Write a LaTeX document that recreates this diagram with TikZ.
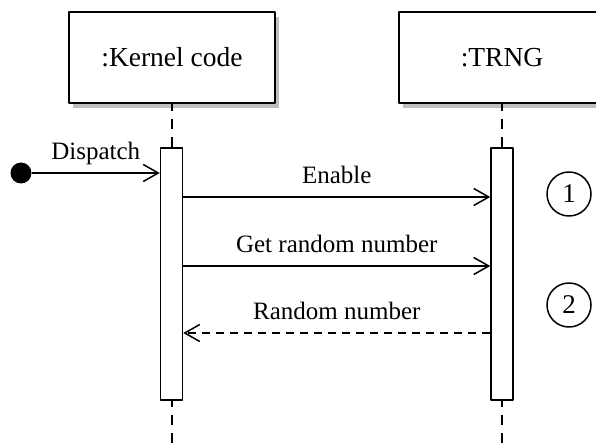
\documentclass[tikz,border=0pt]{standalone}
\usepackage{fontspec}
\setmainfont{Liberation Serif}
\usetikzlibrary{arrows.meta,shadows}

\begin{document}
\begin{tikzpicture}[x=1pt, y=1pt, line join=round,
	object/.style={draw, line width=1.8pt, fill=white, minimum width=206pt, minimum height=91pt, inner sep=0pt,
		font=\fontsize{27.5}{32}\selectfont, drop shadow={shadow xshift=4pt, shadow yshift=-5pt, fill=gray!50, opacity=1}},
	activation/.style={draw, line width=1.5pt, fill=white, minimum width=22pt, minimum height=252pt, inner sep=0pt},
	lifeline/.style={line width=1.5pt, dash pattern=on 10pt off 8pt, dash phase=3pt},
	msg/.style={line width=1.5pt, -{Straight Barb[length=15pt, width=17pt]}},
	reply/.style={msg, dash pattern=on 8pt off 6pt},
	msglabel/.style={anchor=base, yshift=13.5pt, inner sep=0pt, font=\fontsize{25}{29}\selectfont},
	numcircle/.style={draw, circle, line width=1.5pt, minimum size=44pt, inner sep=0pt, font=\fontsize{27}{31}\selectfont},
	startdot/.style={circle, fill=black, minimum size=21pt, inner sep=0pt}]
	\useasboundingbox (0, 0) rectangle (596, -446);

	% Objects
	\node[object] (kernel) at (172, -57.5) {:Kernel code};
	\node[object] (trng) at (502, -57.5) {:TRNG};

	% Lifelines
	\coordinate (kend) at (172, -450);
	\coordinate (tend) at (502, -450);
	\draw[lifeline] (kernel.south) -- (172, -148);
	\draw[lifeline] (trng.south) -- (502, -148);
	\draw[lifeline] (172, -400) -- (kend);
	\draw[lifeline] (502, -400) -- (tend);

	% Activations
	\node[activation] (kact) at (171.5, -274) {};
	\node[activation] (tact) at (502, -274) {};

	% Messages
	\coordinate (m1) at (0, -197);
	\coordinate (m2) at (0, -266);
	\coordinate (m3) at (0, -333);
	\node[startdot] (src) at (21, -173) {};
	\draw[msg] (src) -- node[msglabel] (dispatch) {Dispatch} (kact.west |- src);
	\draw[msg] (kact.east |- m1) -- node[msglabel] (enable) {Enable} (tact.west |- m1);
	\draw[msg] (kact.east |- m2) -- node[msglabel] (get) {Get random number} (tact.west |- m2);
	\draw[reply] (tact.west |- m3) -- node[msglabel] (rnd) {Random number} (kact.east |- m3);

	% Step markers
	\foreach \n/\y in {1/-194, 2/-305} {
		\node[numcircle] (step\n) at (569, \y) {\n};
	}
\end{tikzpicture}
\end{document}
